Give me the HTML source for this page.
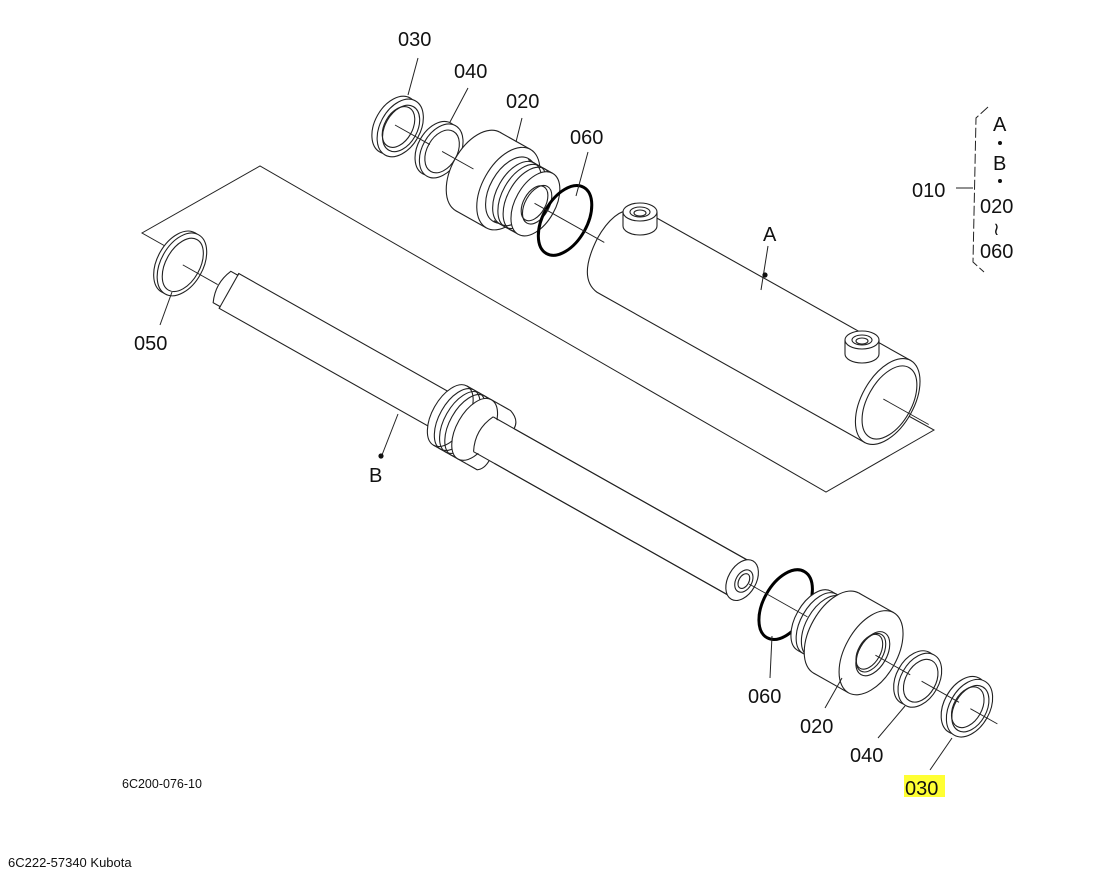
<!DOCTYPE html>
<html><head><meta charset="utf-8"><style>
html,body{margin:0;padding:0;background:#fff;}
svg{display:block;}
text{font-family:"Liberation Sans",sans-serif;fill:#111;}
</style></head><body>
<svg width="1116" height="881" viewBox="0 0 1116 881" xmlns="http://www.w3.org/2000/svg">
<g fill="none" stroke="#222" stroke-width="1">
<polyline points="165,246 142,233 260,166 826,492 934,430 905,414"/>
</g>

<!-- Upper assembly -->
<g transform="translate(395,125) rotate(29.3)" stroke="#222" stroke-width="1.1" fill="#fff">
  <!-- 030 ring -->
  <ellipse cx="0" cy="0" rx="20" ry="31"/>
  <ellipse cx="6" cy="0" rx="20" ry="31"/>
  <ellipse cx="7" cy="0" rx="16" ry="25"/>
  <ellipse cx="4" cy="0" rx="14" ry="22" fill="none"/>
  <!-- 040 ring -->
  <ellipse cx="48" cy="0" rx="19" ry="29"/>
  <ellipse cx="53" cy="0" rx="19" ry="29"/>
  <ellipse cx="54" cy="0" rx="15" ry="23"/>
  <!-- gland 020 -->
  <ellipse cx="95" cy="0" rx="26" ry="45"/>
  <rect x="95" y="-45" width="35" height="90" stroke="none"/>
  <line x1="95" y1="-45" x2="130" y2="-45"/>
  <line x1="95" y1="45" x2="130" y2="45"/>
  <ellipse cx="130" cy="0" rx="26" ry="45"/>
  <ellipse cx="133" cy="0" rx="21" ry="36"/>
  <rect x="133" y="-35" width="28" height="70" stroke="none"/>
  <line x1="133" y1="-35" x2="161" y2="-35"/>
  <line x1="133" y1="35" x2="161" y2="35"/>
  <ellipse cx="140" cy="0" rx="20" ry="35" fill="none"/>
  <ellipse cx="146" cy="0" rx="20" ry="35" fill="none"/>
  <ellipse cx="152" cy="0" rx="20" ry="35" fill="none"/>
  <ellipse cx="161" cy="0" rx="20" ry="35"/>
  <ellipse cx="163" cy="0" rx="12" ry="21"/>
  <ellipse cx="160" cy="0" rx="11" ry="19" fill="none"/>
  <!-- 060 o-ring -->
  <ellipse cx="195" cy="0" rx="22" ry="38" fill="none" stroke="#000" stroke-width="3"/>
  <!-- cylinder A -->
  <path d="M565,-47 L262,-47 Q232,-44 232,0 Q234,44 258,47 L565,47 Z"/>
  <ellipse cx="565" cy="0" rx="26" ry="47"/>
  <ellipse cx="567" cy="0" rx="22" ry="40"/>
  <g fill="none" stroke-width="0.9">
    <line x1="0" y1="0" x2="40" y2="0"/>
    <line x1="54" y1="0" x2="90" y2="0"/>
    <line x1="160" y1="0" x2="240" y2="0"/>
    <line x1="560" y1="0" x2="612" y2="0"/>
  </g>
</g>
<!-- bosses -->
<g stroke="#222" stroke-width="1.1" fill="#fff">
  <path d="M623,212 L623,226 A17,9 0 0 0 657,226 L657,212"/>
  <ellipse cx="640" cy="212" rx="17" ry="9"/>
  <ellipse cx="640" cy="212" rx="10" ry="5"/>
  <ellipse cx="640" cy="213" rx="6" ry="3"/>
  <path d="M845,340 L845,354 A17,9 0 0 0 879,354 L879,340"/>
  <ellipse cx="862" cy="340" rx="17" ry="9"/>
  <ellipse cx="862" cy="340" rx="10" ry="5"/>
  <ellipse cx="862" cy="341" rx="6" ry="3"/>
</g>

<!-- Lower assembly -->
<g transform="translate(222,287) rotate(29.4)" stroke="#222" stroke-width="1.1" fill="#fff">
  <!-- 050 ring -->
  <ellipse cx="-50" cy="0" rx="21" ry="34"/>
  <ellipse cx="-46" cy="0" rx="21" ry="34"/>
  <ellipse cx="-45" cy="0" rx="17" ry="29"/>
  <line x1="-45" y1="0" x2="-5" y2="0" stroke-width="0.9"/>
  <!-- rod -->
  <path d="M0,-18 L8,-18 L8,-20 L597,-20 L597,20 L8,20 L8,18 L0,18 Q-8,0 0,-18 Z"/>
  <line x1="8" y1="-20" x2="8" y2="20"/>
  <!-- piston -->
  <rect x="262" y="-34" width="62" height="68" stroke="none"/>
  <ellipse cx="262" cy="0" rx="18" ry="34"/>
  <line x1="262" y1="-34" x2="300" y2="-34"/>
  <line x1="262" y1="34" x2="300" y2="34"/>
  <ellipse cx="270" cy="0" rx="18" ry="34" fill="none"/>
  <ellipse cx="276" cy="0" rx="18" ry="34" fill="none"/>
  <ellipse cx="282" cy="0" rx="18" ry="34" fill="none"/>
  <ellipse cx="290" cy="0" rx="18" ry="34"/>
  <path d="M300,-34 L312,-34 Q324,-30 324,-20" fill="none"/>
  <path d="M300,34 L312,34 Q318,30 318,20" fill="none"/>
  <rect x="300" y="-19" width="40" height="38" stroke="none"/>
  <line x1="300" y1="-20" x2="597" y2="-20"/>
  <line x1="300" y1="20" x2="597" y2="20"/>
  <path d="M300,-20 Q290,0 300,20" fill="none"/>
  <!-- rod end -->
  <ellipse cx="597" cy="0" rx="14" ry="22"/>
  <ellipse cx="599" cy="0" rx="8" ry="12"/>
  <ellipse cx="599" cy="0" rx="5" ry="8" fill="none"/>
  <!-- 060 o-ring -->
  <ellipse cx="647" cy="0" rx="22" ry="38" fill="none" stroke="#000" stroke-width="3"/>
  <!-- gland 020 -->
  <ellipse cx="680" cy="0" rx="19" ry="34"/>
  <rect x="680" y="-34" width="28" height="68" stroke="none"/>
  <line x1="680" y1="-34" x2="708" y2="-34"/>
  <line x1="680" y1="34" x2="708" y2="34"/>
  <ellipse cx="686" cy="0" rx="19" ry="34" fill="none"/>
  <ellipse cx="692" cy="0" rx="19" ry="34" fill="none"/>
  <ellipse cx="705" cy="0" rx="26" ry="46"/>
  <rect x="705" y="-46" width="40" height="92" stroke="none"/>
  <line x1="705" y1="-46" x2="745" y2="-46"/>
  <line x1="705" y1="46" x2="745" y2="46"/>
  <ellipse cx="745" cy="0" rx="26" ry="46"/>
  <ellipse cx="747" cy="0" rx="14" ry="24"/>
  <ellipse cx="745" cy="0" rx="12" ry="21" fill="none"/>
  <ellipse cx="743" cy="0" rx="11" ry="19" fill="none"/>
  <!-- 040 -->
  <ellipse cx="796" cy="0" rx="19" ry="29"/>
  <ellipse cx="801" cy="0" rx="19" ry="29"/>
  <ellipse cx="802" cy="0" rx="15" ry="23"/>
  <!-- 030 -->
  <ellipse cx="852" cy="0" rx="20" ry="31"/>
  <ellipse cx="858" cy="0" rx="20" ry="31"/>
  <ellipse cx="859" cy="0" rx="16" ry="25"/>
  <ellipse cx="856" cy="0" rx="14" ry="22" fill="none"/>
  <g fill="none" stroke-width="0.9">
    <line x1="605" y1="0" x2="672" y2="0"/>
    <line x1="750" y1="0" x2="790" y2="0"/>
    <line x1="803" y1="0" x2="846" y2="0"/>
    <line x1="859" y1="0" x2="890" y2="0"/>
  </g>
</g>

<!-- leaders -->
<g stroke="#222" stroke-width="1" fill="none">
  <line x1="418" y1="58" x2="408" y2="95"/>
  <line x1="468" y1="88" x2="450" y2="122"/>
  <line x1="522" y1="118" x2="516" y2="142"/>
  <line x1="588" y1="152" x2="576" y2="196"/>
  <line x1="768" y1="246" x2="761" y2="290"/>
  <line x1="382" y1="455" x2="398" y2="414"/>
  <line x1="160" y1="325" x2="172" y2="292"/>
  <line x1="770" y1="678" x2="772" y2="636"/>
  <line x1="825" y1="708" x2="842" y2="678"/>
  <line x1="878" y1="738" x2="905" y2="706"/>
  <line x1="930" y1="770" x2="952" y2="738"/>
  <line x1="956" y1="188" x2="973" y2="188"/>
  <path d="M988,107 L976,118 L973,262 L984,272" stroke-dasharray="10,3"/>
</g>
<circle cx="765" cy="275" r="2.6" fill="#111"/>
<circle cx="381" cy="456" r="2.6" fill="#111"/>

<g font-size="20">
  <text x="398" y="46">030</text>
  <text x="454" y="78">040</text>
  <text x="506" y="108">020</text>
  <text x="570" y="144">060</text>
  <text x="763" y="241">A</text>
  <text x="369" y="482">B</text>
  <text x="134" y="350">050</text>
  <text x="748" y="703">060</text>
  <text x="800" y="733">020</text>
  <text x="850" y="762">040</text>
  <rect x="904" y="775" width="41" height="22" fill="#ffff33"/>
  <text x="905" y="795">030</text>
  <text x="912" y="197">010</text>
  <text x="993" y="131">A</text>
  <text x="993" y="170">B</text>
  <text x="980" y="213">020</text>
  <text x="980" y="258">060</text>
  <text x="993" y="235" font-size="18">≀</text>
</g>
<circle cx="1000" cy="143" r="2" fill="#111"/>
<circle cx="1000" cy="181" r="2" fill="#111"/>
<text x="122" y="788" font-size="12.5">6C200-076-10</text>
<text x="8" y="867" font-size="13">6C222-57340 Kubota</text>
</svg>
</body></html>
